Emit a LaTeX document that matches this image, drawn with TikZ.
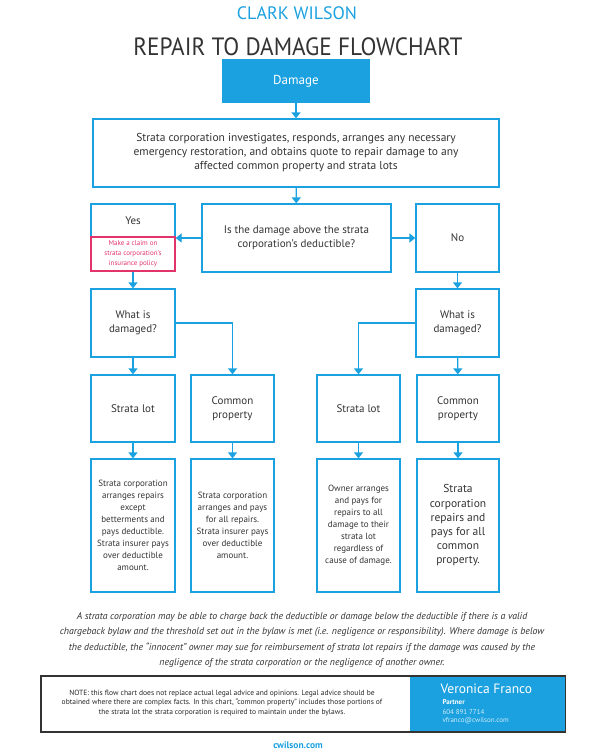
\documentclass[tikz,border=0pt]{standalone}
\usepackage{fontspec}
\setmainfont{PT Sans}
\usetikzlibrary{arrows.meta}
\definecolor{cwblue}{HTML}{1BA1DF}
\definecolor{claimred}{HTML}{E2336B}
\definecolor{inkgray}{HTML}{333333}
\begin{document}
\begin{tikzpicture}[x=1pt,y=-1pt,
  box/.style={draw=cwblue, line width=1.3pt, align=center, text=inkgray, inner sep=0pt},
  flow/.style={draw=cwblue, line width=1.3pt, -{Triangle[width=9pt,length=6pt]}},
  midtext/.style={font=\fontsize{11}{14}\selectfont},
  smalltext/.style={font=\fontsize{9}{12}\selectfont}]
\useasboundingbox (0,0) rectangle (599,756);
% heading
\node[text=cwblue, font=\fontsize{18}{20}\selectfont] (firm) at (297,13) {CLARK WILSON};
\node[text=inkgray, font=\fontsize{25}{28}\selectfont] (title) at (298,47) {\scalebox{0.93}[1]{REPAIR TO DAMAGE FLOWCHART}};
% top of chart
\node[box, fill=cwblue, text=white, minimum width=146, minimum height=42, font=\fontsize{13}{15}\selectfont] (damage) at (296,81) {Damage};
\node[box, font=\fontsize{11.5}{14}\selectfont, minimum width=406, minimum height=68] (probe) at (296,153) {Strata corporation investigates, responds, arranges any necessary\\emergency restoration, and obtains quote to repair damage to any\\affected common property and strata lots};
\node[box, midtext, minimum width=189, minimum height=68] (ask) at (296.5,238) {Is the damage above the strata\\corporation’s deductible?};
\node[box, midtext, minimum width=84, minimum height=33] (yes) at (133,220.5) {Yes};
\node[box, draw=claimred, text=claimred, minimum width=84, minimum height=34, font=\fontsize{7}{10}\selectfont] (claim) at (133,254) {Make a claim on\\strata corporation’s\\insurance policy};
\node[box, midtext, minimum width=83, minimum height=68] (no) at (457.5,238) {No};
% what is damaged
\node[box, midtext, minimum width=84, minimum height=68] (whatL) at (133,323) {What is\\damaged?};
\node[box, midtext, minimum width=83, minimum height=68] (whatR) at (457.5,323) {What is\\damaged?};
\node[box, midtext, minimum width=84, minimum height=67] (lotL) at (133,408.5) {Strata lot};
\node[box, midtext, minimum width=83, minimum height=67] (commonL) at (232.5,408.5) {Common\\property};
\node[box, midtext, minimum width=83, minimum height=67] (lotR) at (358.5,408.5) {Strata lot};
\node[box, midtext, minimum width=82, minimum height=67] (commonR) at (458,408.5) {Common\\property};
% outcomes
\node[box, smalltext, minimum width=84, minimum height=133] (payL) at (133,525.5) {Strata corporation\\arranges repairs\\except\\betterments and\\pays deductible.\\Strata insurer pays\\over deductible\\amount.};
\node[box, smalltext, minimum width=83, minimum height=133] (payC) at (232.5,525.5) {Strata corporation\\arranges and pays\\for all repairs.\\Strata insurer pays\\over deductible\\amount.};
\node[box, smalltext, minimum width=83, minimum height=133] (ownR) at (358.5,525.5) {Owner arranges\\and pays for\\repairs to all\\damage to their\\strata lot\\regardless of\\cause of damage.};
\node[box, font=\fontsize{11.5}{14.2}\selectfont, minimum width=82, minimum height=133] (fixR) at (458,525.5) {Strata\\corporation\\repairs and\\pays for all\\common\\property.};
% connectors
\draw[flow] (damage) -- (probe);
\draw[flow] (probe) -- (ask);
\draw[flow] (ask.west) -- (ask.west -| yes.east);
\draw[flow] (ask.east) -- (no);
\draw[flow] (claim) -- (whatL);
\draw[flow] (no) -- (whatR);
\draw[flow] (whatL) -- (lotL);
\draw[flow] (whatL.east) -| (commonL.north);
\draw[flow] (whatR) -- (commonR);
\draw[flow] (whatR.west) -| (lotR.north);
\draw[flow] (lotL) -- (payL);
\draw[flow] (commonL) -- (payC);
\draw[flow] (lotR) -- (ownR);
\draw[flow] (commonR) -- (fixR);
% footnote
\node[text=inkgray, align=center, font=\itshape\fontsize{9.8}{15.5}\selectfont] (remark) at (302,640) {A strata corporation may be able to charge back the deductible or damage below the deductible if there is a valid\\chargeback bylaw and the threshold set out in the bylaw is met (i.e. negligence or responsibility). Where damage is below\\the deductible, the “innocent” owner may sue for reimbursement of strata lot repairs if the damage was caused by the\\negligence of the strata corporation or the negligence of another owner.};
\node[draw=black!80, line width=1.4pt, minimum width=524, minimum height=56, inner sep=0pt] (notebox) at (303,704) {};
\node[fill=cwblue, minimum width=155, minimum height=54.6, inner sep=0pt] (card) at (487,704) {};
\node[text=black!85, align=center, font=\fontsize{7.5}{9.8}\selectfont] (note) at (222,703) {NOTE: this flow chart does not replace actual legal advice and opinions. Legal advice should be\\obtained where there are complex facts. In this chart, “common property” includes those portions of\\the strata lot the strata corporation is required to maintain under the bylaws.};
\node[text=white, anchor=west, font=\fontsize{13.5}{15}\selectfont] (person) at (437,689) {Veronica Franco};
\node[text=white, anchor=west, font=\bfseries\fontsize{7}{8}\selectfont] (role) at (439,702) {Partner};
\node[text=white!80!cwblue, anchor=west, font=\fontsize{7}{8}\selectfont] (phone) at (439,712) {604 891 7714};
\node[text=white!80!cwblue, anchor=west, font=\fontsize{7}{8}\selectfont] (mail) at (439,721) {vfranco@cwilson.com};
\node[text=cwblue, font=\bfseries\fontsize{9.5}{11}\selectfont] (site) at (298,745) {cwilson.com};
\end{tikzpicture}
\end{document}
